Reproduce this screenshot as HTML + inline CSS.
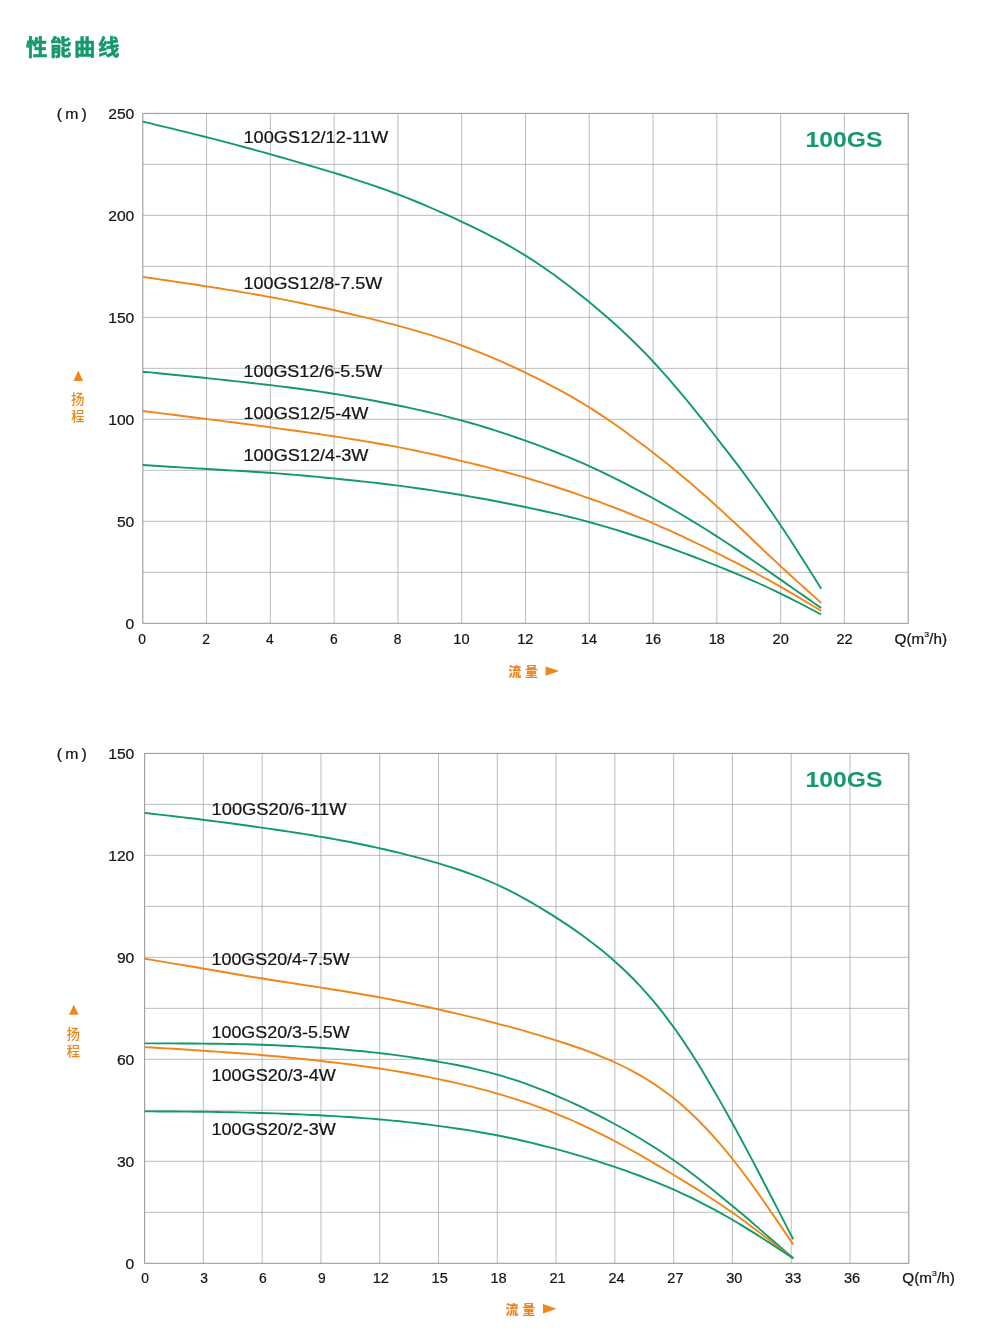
<!DOCTYPE html>
<html lang="zh-CN"><head><meta charset="utf-8"><title>性能曲线</title>
<style>html,body{margin:0;padding:0;background:#fff}svg{display:block}text{font-family:"Liberation Sans", "Noto Sans CJK SC", sans-serif}.d{stroke:#141414;stroke-width:.22px}</style>
</head><body>
<svg width="1008" height="1342" viewBox="0 0 1008 1342">
<rect width="1008" height="1342" fill="#fff"/>
<text x="25.9" y="54.9" font-size="21.4" font-weight="bold" fill="#14996b" stroke="#14996b" stroke-width="0.55" textLength="93.6" lengthAdjust="spacing">性能曲线</text>
<path d="M206.58 113.40V623.30M270.37 113.40V623.30M334.15 113.40V623.30M397.93 113.40V623.30M461.72 113.40V623.30M525.50 113.40V623.30M589.28 113.40V623.30M653.07 113.40V623.30M716.85 113.40V623.30M780.63 113.40V623.30M844.42 113.40V623.30M142.80 164.39H908.20M142.80 215.38H908.20M142.80 266.37H908.20M142.80 317.36H908.20M142.80 368.35H908.20M142.80 419.34H908.20M142.80 470.33H908.20M142.80 521.32H908.20M142.80 572.31H908.20" stroke="#a0a0a0" stroke-width="0.7" fill="none"/>
<path d="M142.40 113.40H908.60M142.40 623.30H908.60" stroke="#858585" stroke-width="0.9" fill="none"/>
<path d="M142.80 113.40V623.30M908.20 113.40V623.30" stroke="#9c9c9c" stroke-width="1.1" fill="none"/>
<path d="M142.8 121.6 L150.4 123.4 L158.0 125.3 L165.7 127.1 L173.3 128.9 L180.9 130.8 L188.5 132.7 L196.2 134.6 L203.8 136.5 L211.4 138.4 L219.0 140.4 L226.6 142.4 L234.3 144.4 L241.9 146.5 L249.5 148.5 L257.1 150.6 L264.8 152.7 L272.4 154.9 L280.0 157.0 L287.6 159.2 L295.2 161.4 L302.9 163.6 L310.5 165.8 L318.1 168.1 L325.7 170.3 L333.4 172.7 L341.0 175.0 L348.6 177.4 L356.2 179.8 L363.9 182.3 L371.5 184.9 L379.1 187.5 L386.7 190.2 L394.3 193.0 L402.0 195.9 L409.6 198.9 L417.2 202.0 L424.8 205.2 L432.5 208.5 L440.1 211.8 L447.7 215.2 L455.3 218.7 L462.9 222.3 L470.6 225.9 L478.2 229.6 L485.8 233.4 L493.4 237.3 L501.1 241.4 L508.7 245.6 L516.3 250.0 L523.9 254.6 L531.5 259.4 L539.2 264.5 L546.8 269.7 L554.4 275.1 L562.0 280.7 L569.7 286.5 L577.3 292.4 L584.9 298.5 L592.5 304.8 L600.1 311.2 L607.8 317.8 L615.4 324.5 L623.0 331.5 L630.6 338.7 L638.3 346.2 L645.9 353.9 L653.5 362.0 L661.1 370.3 L668.8 378.9 L676.4 387.8 L684.0 396.9 L691.6 406.2 L699.2 415.6 L706.9 425.2 L714.5 435.0 L722.1 444.8 L729.7 454.7 L737.4 464.7 L745.0 474.9 L752.6 485.3 L760.2 495.8 L767.8 506.6 L775.5 517.7 L783.1 529.0 L790.7 540.6 L798.3 552.4 L806.0 564.4 L813.6 576.5 L821.2 588.7" stroke="#14996b" stroke-width="1.9" fill="none" stroke-linecap="butt"/>
<path d="M142.8 276.9 L150.4 278.0 L158.0 279.1 L165.7 280.2 L173.3 281.4 L180.9 282.5 L188.5 283.6 L196.2 284.8 L203.8 286.0 L211.4 287.1 L219.0 288.3 L226.6 289.6 L234.3 290.8 L241.9 292.1 L249.5 293.4 L257.1 294.7 L264.8 296.1 L272.4 297.5 L280.0 298.9 L287.6 300.4 L295.2 301.9 L302.9 303.5 L310.5 305.1 L318.1 306.7 L325.7 308.3 L333.4 310.0 L341.0 311.7 L348.6 313.5 L356.2 315.3 L363.9 317.1 L371.5 318.9 L379.1 320.8 L386.7 322.8 L394.3 324.7 L402.0 326.8 L409.6 328.9 L417.2 331.1 L424.8 333.3 L432.5 335.6 L440.1 338.1 L447.7 340.6 L455.3 343.2 L462.9 346.0 L470.6 348.8 L478.2 351.8 L485.8 354.9 L493.4 358.1 L501.1 361.4 L508.7 364.8 L516.3 368.3 L523.9 371.9 L531.5 375.6 L539.2 379.4 L546.8 383.3 L554.4 387.3 L562.0 391.4 L569.7 395.7 L577.3 400.1 L584.9 404.7 L592.5 409.4 L600.1 414.4 L607.8 419.5 L615.4 424.7 L623.0 430.1 L630.6 435.7 L638.3 441.4 L645.9 447.1 L653.5 453.0 L661.1 459.0 L668.8 465.1 L676.4 471.3 L684.0 477.7 L691.6 484.1 L699.2 490.7 L706.9 497.3 L714.5 504.2 L722.1 511.1 L729.7 518.2 L737.4 525.3 L745.0 532.5 L752.6 539.8 L760.2 547.0 L767.8 554.2 L775.5 561.4 L783.1 568.5 L790.7 575.5 L798.3 582.4 L806.0 589.3 L813.6 596.1 L821.2 602.9" stroke="#f0861a" stroke-width="1.9" fill="none" stroke-linecap="butt"/>
<path d="M142.8 371.7 L150.4 372.4 L158.0 373.2 L165.7 374.0 L173.3 374.7 L180.9 375.5 L188.5 376.2 L196.2 377.0 L203.8 377.8 L211.4 378.6 L219.0 379.4 L226.6 380.2 L234.3 381.1 L241.9 381.9 L249.5 382.8 L257.1 383.6 L264.8 384.5 L272.4 385.4 L280.0 386.4 L287.6 387.3 L295.2 388.3 L302.9 389.3 L310.5 390.3 L318.1 391.4 L325.7 392.5 L333.4 393.7 L341.0 394.9 L348.6 396.2 L356.2 397.5 L363.9 398.9 L371.5 400.3 L379.1 401.7 L386.7 403.2 L394.3 404.8 L402.0 406.3 L409.6 407.9 L417.2 409.6 L424.8 411.3 L432.5 413.1 L440.1 414.9 L447.7 416.8 L455.3 418.8 L462.9 420.8 L470.6 423.0 L478.2 425.2 L485.8 427.5 L493.4 429.9 L501.1 432.3 L508.7 434.9 L516.3 437.5 L523.9 440.1 L531.5 442.9 L539.2 445.7 L546.8 448.6 L554.4 451.5 L562.0 454.6 L569.7 457.7 L577.3 460.9 L584.9 464.2 L592.5 467.7 L600.1 471.2 L607.8 474.8 L615.4 478.6 L623.0 482.4 L630.6 486.3 L638.3 490.3 L645.9 494.4 L653.5 498.5 L661.1 502.8 L668.8 507.1 L676.4 511.5 L684.0 516.0 L691.6 520.6 L699.2 525.3 L706.9 530.0 L714.5 534.9 L722.1 539.8 L729.7 544.8 L737.4 549.9 L745.0 555.1 L752.6 560.3 L760.2 565.5 L767.8 570.8 L775.5 576.1 L783.1 581.4 L790.7 586.7 L798.3 592.0 L806.0 597.4 L813.6 602.7 L821.2 608.0" stroke="#14996b" stroke-width="1.9" fill="none" stroke-linecap="butt"/>
<path d="M142.8 411.0 L150.4 412.0 L158.0 412.9 L165.7 413.9 L173.3 414.8 L180.9 415.8 L188.5 416.7 L196.2 417.7 L203.8 418.6 L211.4 419.6 L219.0 420.6 L226.6 421.6 L234.3 422.5 L241.9 423.5 L249.5 424.5 L257.1 425.5 L264.8 426.5 L272.4 427.6 L280.0 428.6 L287.6 429.7 L295.2 430.7 L302.9 431.8 L310.5 432.9 L318.1 434.0 L325.7 435.1 L333.4 436.3 L341.0 437.4 L348.6 438.6 L356.2 439.8 L363.9 441.1 L371.5 442.3 L379.1 443.7 L386.7 445.0 L394.3 446.4 L402.0 447.9 L409.6 449.4 L417.2 451.0 L424.8 452.6 L432.5 454.2 L440.1 456.0 L447.7 457.7 L455.3 459.5 L462.9 461.3 L470.6 463.1 L478.2 465.0 L485.8 466.9 L493.4 468.9 L501.1 470.9 L508.7 473.0 L516.3 475.1 L523.9 477.2 L531.5 479.5 L539.2 481.8 L546.8 484.1 L554.4 486.5 L562.0 489.0 L569.7 491.5 L577.3 494.1 L584.9 496.8 L592.5 499.5 L600.1 502.2 L607.8 505.1 L615.4 508.0 L623.0 510.9 L630.6 514.0 L638.3 517.1 L645.9 520.2 L653.5 523.5 L661.1 526.8 L668.8 530.2 L676.4 533.7 L684.0 537.2 L691.6 540.8 L699.2 544.5 L706.9 548.2 L714.5 551.9 L722.1 555.7 L729.7 559.6 L737.4 563.4 L745.0 567.4 L752.6 571.4 L760.2 575.5 L767.8 579.6 L775.5 583.9 L783.1 588.2 L790.7 592.6 L798.3 597.1 L806.0 601.7 L813.6 606.3 L821.2 610.9" stroke="#f0861a" stroke-width="1.9" fill="none" stroke-linecap="butt"/>
<path d="M142.8 465.0 L150.4 465.5 L158.0 466.0 L165.7 466.5 L173.3 467.0 L180.9 467.4 L188.5 467.9 L196.2 468.4 L203.8 468.8 L211.4 469.3 L219.0 469.7 L226.6 470.2 L234.3 470.6 L241.9 471.0 L249.5 471.5 L257.1 472.0 L264.8 472.5 L272.4 473.0 L280.0 473.6 L287.6 474.2 L295.2 474.9 L302.9 475.5 L310.5 476.2 L318.1 476.9 L325.7 477.7 L333.4 478.4 L341.0 479.2 L348.6 480.0 L356.2 480.8 L363.9 481.6 L371.5 482.4 L379.1 483.3 L386.7 484.2 L394.3 485.1 L402.0 486.1 L409.6 487.1 L417.2 488.2 L424.8 489.3 L432.5 490.4 L440.1 491.6 L447.7 492.8 L455.3 494.0 L462.9 495.3 L470.6 496.6 L478.2 498.0 L485.8 499.3 L493.4 500.8 L501.1 502.2 L508.7 503.7 L516.3 505.2 L523.9 506.8 L531.5 508.4 L539.2 510.0 L546.8 511.7 L554.4 513.4 L562.0 515.2 L569.7 517.0 L577.3 518.9 L584.9 520.9 L592.5 523.0 L600.1 525.1 L607.8 527.4 L615.4 529.7 L623.0 532.0 L630.6 534.5 L638.3 537.0 L645.9 539.5 L653.5 542.2 L661.1 544.8 L668.8 547.5 L676.4 550.3 L684.0 553.1 L691.6 556.0 L699.2 558.9 L706.9 561.9 L714.5 564.9 L722.1 567.9 L729.7 571.0 L737.4 574.2 L745.0 577.4 L752.6 580.7 L760.2 584.0 L767.8 587.5 L775.5 591.1 L783.1 594.8 L790.7 598.6 L798.3 602.5 L806.0 606.5 L813.6 610.5 L821.2 614.5" stroke="#14996b" stroke-width="1.9" fill="none" stroke-linecap="butt"/>
<text x="243.4" y="142.9" font-size="16.8" text-anchor="start" fill="#141414" font-weight="normal" textLength="144.8" lengthAdjust="spacingAndGlyphs" class="d">100GS12/12-11W</text>
<text x="243.4" y="288.9" font-size="16.8" text-anchor="start" fill="#141414" font-weight="normal" textLength="138.9" lengthAdjust="spacingAndGlyphs" class="d">100GS12/8-7.5W</text>
<text x="243.4" y="377.4" font-size="16.8" text-anchor="start" fill="#141414" font-weight="normal" textLength="138.9" lengthAdjust="spacingAndGlyphs" class="d">100GS12/6-5.5W</text>
<text x="243.4" y="418.6" font-size="16.8" text-anchor="start" fill="#141414" font-weight="normal" textLength="125.0" lengthAdjust="spacingAndGlyphs" class="d">100GS12/5-4W</text>
<text x="243.4" y="461.4" font-size="16.8" text-anchor="start" fill="#141414" font-weight="normal" textLength="125.0" lengthAdjust="spacingAndGlyphs" class="d">100GS12/4-3W</text>
<text x="138.3" y="644.1" font-size="14" text-anchor="start" fill="#141414" font-weight="normal" textLength="7.7" lengthAdjust="spacingAndGlyphs" class="d">0</text>
<text x="202.2" y="644.1" font-size="14" text-anchor="start" fill="#141414" font-weight="normal" textLength="7.7" lengthAdjust="spacingAndGlyphs" class="d">2</text>
<text x="266.0" y="644.1" font-size="14" text-anchor="start" fill="#141414" font-weight="normal" textLength="7.7" lengthAdjust="spacingAndGlyphs" class="d">4</text>
<text x="329.9" y="644.1" font-size="14" text-anchor="start" fill="#141414" font-weight="normal" textLength="7.7" lengthAdjust="spacingAndGlyphs" class="d">6</text>
<text x="393.8" y="644.1" font-size="14" text-anchor="start" fill="#141414" font-weight="normal" textLength="7.7" lengthAdjust="spacingAndGlyphs" class="d">8</text>
<text x="453.3" y="644.1" font-size="14" text-anchor="start" fill="#141414" font-weight="normal" textLength="16.2" lengthAdjust="spacingAndGlyphs" class="d">10</text>
<text x="517.2" y="644.1" font-size="14" text-anchor="start" fill="#141414" font-weight="normal" textLength="16.2" lengthAdjust="spacingAndGlyphs" class="d">12</text>
<text x="581.0" y="644.1" font-size="14" text-anchor="start" fill="#141414" font-weight="normal" textLength="16.2" lengthAdjust="spacingAndGlyphs" class="d">14</text>
<text x="644.9" y="644.1" font-size="14" text-anchor="start" fill="#141414" font-weight="normal" textLength="16.2" lengthAdjust="spacingAndGlyphs" class="d">16</text>
<text x="708.7" y="644.1" font-size="14" text-anchor="start" fill="#141414" font-weight="normal" textLength="16.2" lengthAdjust="spacingAndGlyphs" class="d">18</text>
<text x="772.6" y="644.1" font-size="14" text-anchor="start" fill="#141414" font-weight="normal" textLength="16.2" lengthAdjust="spacingAndGlyphs" class="d">20</text>
<text x="836.4" y="644.1" font-size="14" text-anchor="start" fill="#141414" font-weight="normal" textLength="16.2" lengthAdjust="spacingAndGlyphs" class="d">22</text>
<text x="894.5" y="644.1" font-size="14" fill="#141414" class="d" textLength="52.5" lengthAdjust="spacingAndGlyphs">Q(m<tspan font-size="8" dy="-7.2">3</tspan><tspan dy="7.2">/h)</tspan></text>
<text x="125.6" y="629.3" font-size="14" text-anchor="start" fill="#141414" font-weight="normal" textLength="8.7" lengthAdjust="spacingAndGlyphs" class="d">0</text>
<text x="116.9" y="527.3" font-size="14" text-anchor="start" fill="#141414" font-weight="normal" textLength="17.4" lengthAdjust="spacingAndGlyphs" class="d">50</text>
<text x="108.2" y="425.3" font-size="14" text-anchor="start" fill="#141414" font-weight="normal" textLength="26.1" lengthAdjust="spacingAndGlyphs" class="d">100</text>
<text x="108.2" y="323.4" font-size="14" text-anchor="start" fill="#141414" font-weight="normal" textLength="26.1" lengthAdjust="spacingAndGlyphs" class="d">150</text>
<text x="108.2" y="221.4" font-size="14" text-anchor="start" fill="#141414" font-weight="normal" textLength="26.1" lengthAdjust="spacingAndGlyphs" class="d">200</text>
<text x="108.2" y="119.4" font-size="14" text-anchor="start" fill="#141414" font-weight="normal" textLength="26.1" lengthAdjust="spacingAndGlyphs" class="d">250</text>
<text x="56.8" y="119.1" font-size="14" text-anchor="start" fill="#141414" font-weight="normal" textLength="30.0" lengthAdjust="spacingAndGlyphs" class="d">(&#8201;m&#8201;)</text>
<path d="M78.3 370.6L83.1 381.0L73.5 381.0Z" fill="#f0861a"/>
<text x="77.7" y="403.9" font-size="13.5" text-anchor="middle" fill="#f0861a" font-weight="500">扬<tspan x="77.7" dy="17.3">程</tspan></text>
<text x="508.2" y="675.6" font-size="13" fill="#f0861a" font-weight="900" textLength="29.7" lengthAdjust="spacing">流量</text>
<path d="M545.6 666.4L559.1 671.1L545.6 675.8Z" fill="#f0861a"/>
<text x="805.6" y="146.8" font-size="21.5" text-anchor="start" fill="#14996b" font-weight="bold" textLength="77.0" lengthAdjust="spacingAndGlyphs">100GS</text>
<path d="M203.38 753.40V1263.30M262.17 753.40V1263.30M320.95 753.40V1263.30M379.74 753.40V1263.30M438.52 753.40V1263.30M497.31 753.40V1263.30M556.09 753.40V1263.30M614.88 753.40V1263.30M673.66 753.40V1263.30M732.45 753.40V1263.30M791.23 753.40V1263.30M850.02 753.40V1263.30M144.60 804.39H908.80M144.60 855.38H908.80M144.60 906.37H908.80M144.60 957.36H908.80M144.60 1008.35H908.80M144.60 1059.34H908.80M144.60 1110.33H908.80M144.60 1161.32H908.80M144.60 1212.31H908.80" stroke="#a0a0a0" stroke-width="0.7" fill="none"/>
<path d="M144.20 753.40H909.20M144.20 1263.30H909.20" stroke="#858585" stroke-width="0.9" fill="none"/>
<path d="M144.60 753.40V1263.30M908.80 753.40V1263.30" stroke="#9c9c9c" stroke-width="1.1" fill="none"/>
<path d="M144.6 812.9 L151.9 813.7 L159.2 814.6 L166.5 815.4 L173.8 816.2 L181.0 817.1 L188.3 818.0 L195.6 818.8 L202.9 819.7 L210.2 820.7 L217.5 821.6 L224.8 822.5 L232.1 823.5 L239.3 824.5 L246.6 825.5 L253.9 826.5 L261.2 827.6 L268.5 828.6 L275.8 829.7 L283.1 830.8 L290.4 831.9 L297.6 833.0 L304.9 834.1 L312.2 835.3 L319.5 836.6 L326.8 837.8 L334.1 839.1 L341.4 840.5 L348.7 841.8 L355.9 843.3 L363.2 844.8 L370.5 846.3 L377.8 847.9 L385.1 849.5 L392.4 851.2 L399.7 852.9 L407.0 854.8 L414.2 856.6 L421.5 858.6 L428.8 860.6 L436.1 862.7 L443.4 864.9 L450.7 867.1 L458.0 869.5 L465.3 872.0 L472.5 874.6 L479.8 877.4 L487.1 880.3 L494.4 883.5 L501.7 886.8 L509.0 890.4 L516.3 894.2 L523.6 898.1 L530.8 902.2 L538.1 906.5 L545.4 910.9 L552.7 915.4 L560.0 920.1 L567.3 924.9 L574.6 929.9 L581.9 935.0 L589.1 940.4 L596.4 946.0 L603.7 951.8 L611.0 958.0 L618.3 964.5 L625.6 971.3 L632.9 978.5 L640.2 986.2 L647.4 994.2 L654.7 1002.7 L662.0 1011.7 L669.3 1021.3 L676.6 1031.3 L683.9 1041.9 L691.2 1053.0 L698.5 1064.6 L705.7 1076.5 L713.0 1088.9 L720.3 1101.6 L727.6 1114.5 L734.9 1127.8 L742.2 1141.2 L749.5 1154.9 L756.8 1168.7 L764.0 1182.7 L771.3 1196.7 L778.6 1210.9 L785.9 1225.1 L793.2 1239.3" stroke="#14996b" stroke-width="1.9" fill="none" stroke-linecap="butt"/>
<path d="M144.6 958.7 L151.9 959.9 L159.2 961.1 L166.5 962.4 L173.8 963.6 L181.0 964.8 L188.3 966.0 L195.6 967.3 L202.9 968.5 L210.2 969.8 L217.5 971.0 L224.8 972.3 L232.1 973.5 L239.3 974.7 L246.6 976.0 L253.9 977.2 L261.2 978.3 L268.5 979.5 L275.8 980.7 L283.1 981.8 L290.4 982.9 L297.6 984.0 L304.9 985.1 L312.2 986.3 L319.5 987.4 L326.8 988.5 L334.1 989.7 L341.4 990.8 L348.7 992.0 L355.9 993.2 L363.2 994.5 L370.5 995.7 L377.8 997.0 L385.1 998.4 L392.4 999.8 L399.7 1001.2 L407.0 1002.7 L414.2 1004.2 L421.5 1005.7 L428.8 1007.3 L436.1 1008.9 L443.4 1010.5 L450.7 1012.2 L458.0 1013.9 L465.3 1015.6 L472.5 1017.3 L479.8 1019.1 L487.1 1021.0 L494.4 1022.8 L501.7 1024.8 L509.0 1026.7 L516.3 1028.7 L523.6 1030.7 L530.8 1032.8 L538.1 1034.9 L545.4 1037.1 L552.7 1039.3 L560.0 1041.6 L567.3 1044.0 L574.6 1046.5 L581.9 1049.0 L589.1 1051.7 L596.4 1054.5 L603.7 1057.5 L611.0 1060.7 L618.3 1064.0 L625.6 1067.5 L632.9 1071.3 L640.2 1075.4 L647.4 1079.7 L654.7 1084.4 L662.0 1089.4 L669.3 1094.8 L676.6 1100.6 L683.9 1106.8 L691.2 1113.5 L698.5 1120.5 L705.7 1128.0 L713.0 1135.9 L720.3 1144.2 L727.6 1152.9 L734.9 1162.0 L742.2 1171.5 L749.5 1181.3 L756.8 1191.4 L764.0 1201.7 L771.3 1212.2 L778.6 1222.9 L785.9 1233.6 L793.2 1244.4" stroke="#f0861a" stroke-width="1.9" fill="none" stroke-linecap="butt"/>
<path d="M144.6 1043.4 L151.9 1043.4 L159.2 1043.4 L166.5 1043.4 L173.8 1043.4 L181.0 1043.5 L188.3 1043.5 L195.6 1043.5 L202.9 1043.6 L210.2 1043.7 L217.5 1043.8 L224.8 1043.9 L232.1 1044.0 L239.3 1044.1 L246.6 1044.3 L253.9 1044.5 L261.2 1044.8 L268.5 1045.0 L275.8 1045.3 L283.1 1045.7 L290.4 1046.0 L297.6 1046.4 L304.9 1046.9 L312.2 1047.3 L319.5 1047.8 L326.8 1048.3 L334.1 1048.8 L341.4 1049.4 L348.7 1050.0 L355.9 1050.7 L363.2 1051.3 L370.5 1052.1 L377.8 1052.9 L385.1 1053.7 L392.4 1054.6 L399.7 1055.6 L407.0 1056.6 L414.2 1057.7 L421.5 1058.9 L428.8 1060.0 L436.1 1061.3 L443.4 1062.6 L450.7 1063.9 L458.0 1065.3 L465.3 1066.8 L472.5 1068.4 L479.8 1070.1 L487.1 1071.9 L494.4 1073.8 L501.7 1075.9 L509.0 1078.1 L516.3 1080.4 L523.6 1082.9 L530.8 1085.6 L538.1 1088.3 L545.4 1091.2 L552.7 1094.2 L560.0 1097.3 L567.3 1100.5 L574.6 1103.8 L581.9 1107.2 L589.1 1110.8 L596.4 1114.4 L603.7 1118.2 L611.0 1122.0 L618.3 1126.0 L625.6 1130.0 L632.9 1134.2 L640.2 1138.5 L647.4 1143.0 L654.7 1147.5 L662.0 1152.3 L669.3 1157.2 L676.6 1162.3 L683.9 1167.5 L691.2 1172.9 L698.5 1178.5 L705.7 1184.2 L713.0 1190.0 L720.3 1195.9 L727.6 1201.9 L734.9 1208.0 L742.2 1214.1 L749.5 1220.3 L756.8 1226.6 L764.0 1232.9 L771.3 1239.2 L778.6 1245.5 L785.9 1251.9 L793.2 1258.3" stroke="#14996b" stroke-width="1.9" fill="none" stroke-linecap="butt"/>
<path d="M144.6 1047.1 L151.9 1047.5 L159.2 1048.0 L166.5 1048.4 L173.8 1048.8 L181.0 1049.3 L188.3 1049.7 L195.6 1050.2 L202.9 1050.7 L210.2 1051.2 L217.5 1051.6 L224.8 1052.2 L232.1 1052.7 L239.3 1053.2 L246.6 1053.8 L253.9 1054.4 L261.2 1055.0 L268.5 1055.7 L275.8 1056.3 L283.1 1057.0 L290.4 1057.7 L297.6 1058.5 L304.9 1059.2 L312.2 1060.0 L319.5 1060.8 L326.8 1061.7 L334.1 1062.5 L341.4 1063.4 L348.7 1064.3 L355.9 1065.3 L363.2 1066.2 L370.5 1067.2 L377.8 1068.3 L385.1 1069.4 L392.4 1070.6 L399.7 1071.8 L407.0 1073.0 L414.2 1074.3 L421.5 1075.7 L428.8 1077.1 L436.1 1078.6 L443.4 1080.1 L450.7 1081.7 L458.0 1083.4 L465.3 1085.1 L472.5 1086.9 L479.8 1088.8 L487.1 1090.7 L494.4 1092.8 L501.7 1094.9 L509.0 1097.1 L516.3 1099.4 L523.6 1101.7 L530.8 1104.2 L538.1 1106.8 L545.4 1109.5 L552.7 1112.3 L560.0 1115.3 L567.3 1118.4 L574.6 1121.5 L581.9 1124.8 L589.1 1128.3 L596.4 1131.8 L603.7 1135.4 L611.0 1139.2 L618.3 1143.0 L625.6 1147.0 L632.9 1151.0 L640.2 1155.1 L647.4 1159.3 L654.7 1163.6 L662.0 1167.9 L669.3 1172.3 L676.6 1176.7 L683.9 1181.1 L691.2 1185.6 L698.5 1190.1 L705.7 1194.7 L713.0 1199.5 L720.3 1204.3 L727.6 1209.2 L734.9 1214.3 L742.2 1219.6 L749.5 1224.9 L756.8 1230.4 L764.0 1235.9 L771.3 1241.6 L778.6 1247.2 L785.9 1253.0 L793.2 1258.7" stroke="#f0861a" stroke-width="1.9" fill="none" stroke-linecap="butt"/>
<path d="M144.6 1111.4 L151.9 1111.4 L159.2 1111.5 L166.5 1111.5 L173.8 1111.5 L181.0 1111.6 L188.3 1111.6 L195.6 1111.7 L202.9 1111.8 L210.2 1111.9 L217.5 1112.0 L224.8 1112.1 L232.1 1112.3 L239.3 1112.4 L246.6 1112.6 L253.9 1112.8 L261.2 1113.0 L268.5 1113.2 L275.8 1113.4 L283.1 1113.7 L290.4 1114.0 L297.6 1114.3 L304.9 1114.6 L312.2 1115.0 L319.5 1115.3 L326.8 1115.7 L334.1 1116.1 L341.4 1116.6 L348.7 1117.0 L355.9 1117.5 L363.2 1118.1 L370.5 1118.6 L377.8 1119.2 L385.1 1119.9 L392.4 1120.6 L399.7 1121.3 L407.0 1122.1 L414.2 1122.9 L421.5 1123.7 L428.8 1124.6 L436.1 1125.6 L443.4 1126.6 L450.7 1127.6 L458.0 1128.7 L465.3 1129.8 L472.5 1130.9 L479.8 1132.2 L487.1 1133.5 L494.4 1134.8 L501.7 1136.3 L509.0 1137.8 L516.3 1139.3 L523.6 1141.0 L530.8 1142.7 L538.1 1144.5 L545.4 1146.3 L552.7 1148.2 L560.0 1150.2 L567.3 1152.2 L574.6 1154.3 L581.9 1156.4 L589.1 1158.7 L596.4 1160.9 L603.7 1163.3 L611.0 1165.7 L618.3 1168.2 L625.6 1170.7 L632.9 1173.3 L640.2 1176.0 L647.4 1178.8 L654.7 1181.6 L662.0 1184.6 L669.3 1187.7 L676.6 1190.9 L683.9 1194.3 L691.2 1197.7 L698.5 1201.3 L705.7 1205.1 L713.0 1208.9 L720.3 1212.9 L727.6 1217.0 L734.9 1221.2 L742.2 1225.6 L749.5 1230.1 L756.8 1234.6 L764.0 1239.3 L771.3 1244.0 L778.6 1248.7 L785.9 1253.5 L793.2 1258.3" stroke="#14996b" stroke-width="1.9" fill="none" stroke-linecap="butt"/>
<text x="211.5" y="815.0" font-size="16.8" text-anchor="start" fill="#141414" font-weight="normal" textLength="135.1" lengthAdjust="spacingAndGlyphs" class="d">100GS20/6-11W</text>
<text x="211.5" y="965.4" font-size="16.8" text-anchor="start" fill="#141414" font-weight="normal" textLength="138.2" lengthAdjust="spacingAndGlyphs" class="d">100GS20/4-7.5W</text>
<text x="211.5" y="1038.2" font-size="16.8" text-anchor="start" fill="#141414" font-weight="normal" textLength="138.2" lengthAdjust="spacingAndGlyphs" class="d">100GS20/3-5.5W</text>
<text x="211.5" y="1080.9" font-size="16.8" text-anchor="start" fill="#141414" font-weight="normal" textLength="124.4" lengthAdjust="spacingAndGlyphs" class="d">100GS20/3-4W</text>
<text x="211.5" y="1135.4" font-size="16.8" text-anchor="start" fill="#141414" font-weight="normal" textLength="124.4" lengthAdjust="spacingAndGlyphs" class="d">100GS20/2-3W</text>
<text x="141.2" y="1282.8" font-size="14" text-anchor="start" fill="#141414" font-weight="normal" textLength="7.7" lengthAdjust="spacingAndGlyphs" class="d">0</text>
<text x="200.2" y="1282.8" font-size="14" text-anchor="start" fill="#141414" font-weight="normal" textLength="7.7" lengthAdjust="spacingAndGlyphs" class="d">3</text>
<text x="259.1" y="1282.8" font-size="14" text-anchor="start" fill="#141414" font-weight="normal" textLength="7.7" lengthAdjust="spacingAndGlyphs" class="d">6</text>
<text x="318.0" y="1282.8" font-size="14" text-anchor="start" fill="#141414" font-weight="normal" textLength="7.7" lengthAdjust="spacingAndGlyphs" class="d">9</text>
<text x="372.7" y="1282.8" font-size="14" text-anchor="start" fill="#141414" font-weight="normal" textLength="16.2" lengthAdjust="spacingAndGlyphs" class="d">12</text>
<text x="431.6" y="1282.8" font-size="14" text-anchor="start" fill="#141414" font-weight="normal" textLength="16.2" lengthAdjust="spacingAndGlyphs" class="d">15</text>
<text x="490.5" y="1282.8" font-size="14" text-anchor="start" fill="#141414" font-weight="normal" textLength="16.2" lengthAdjust="spacingAndGlyphs" class="d">18</text>
<text x="549.4" y="1282.8" font-size="14" text-anchor="start" fill="#141414" font-weight="normal" textLength="16.2" lengthAdjust="spacingAndGlyphs" class="d">21</text>
<text x="608.4" y="1282.8" font-size="14" text-anchor="start" fill="#141414" font-weight="normal" textLength="16.2" lengthAdjust="spacingAndGlyphs" class="d">24</text>
<text x="667.3" y="1282.8" font-size="14" text-anchor="start" fill="#141414" font-weight="normal" textLength="16.2" lengthAdjust="spacingAndGlyphs" class="d">27</text>
<text x="726.2" y="1282.8" font-size="14" text-anchor="start" fill="#141414" font-weight="normal" textLength="16.2" lengthAdjust="spacingAndGlyphs" class="d">30</text>
<text x="785.1" y="1282.8" font-size="14" text-anchor="start" fill="#141414" font-weight="normal" textLength="16.2" lengthAdjust="spacingAndGlyphs" class="d">33</text>
<text x="844.0" y="1282.8" font-size="14" text-anchor="start" fill="#141414" font-weight="normal" textLength="16.2" lengthAdjust="spacingAndGlyphs" class="d">36</text>
<text x="902.3" y="1282.8" font-size="14" fill="#141414" class="d" textLength="52.5" lengthAdjust="spacingAndGlyphs">Q(m<tspan font-size="8" dy="-7.2">3</tspan><tspan dy="7.2">/h)</tspan></text>
<text x="125.6" y="1269.3" font-size="14" text-anchor="start" fill="#141414" font-weight="normal" textLength="8.7" lengthAdjust="spacingAndGlyphs" class="d">0</text>
<text x="116.9" y="1167.3" font-size="14" text-anchor="start" fill="#141414" font-weight="normal" textLength="17.4" lengthAdjust="spacingAndGlyphs" class="d">30</text>
<text x="116.9" y="1065.3" font-size="14" text-anchor="start" fill="#141414" font-weight="normal" textLength="17.4" lengthAdjust="spacingAndGlyphs" class="d">60</text>
<text x="116.9" y="963.4" font-size="14" text-anchor="start" fill="#141414" font-weight="normal" textLength="17.4" lengthAdjust="spacingAndGlyphs" class="d">90</text>
<text x="108.2" y="861.4" font-size="14" text-anchor="start" fill="#141414" font-weight="normal" textLength="26.1" lengthAdjust="spacingAndGlyphs" class="d">120</text>
<text x="108.2" y="759.4" font-size="14" text-anchor="start" fill="#141414" font-weight="normal" textLength="26.1" lengthAdjust="spacingAndGlyphs" class="d">150</text>
<text x="56.8" y="759.1" font-size="14" text-anchor="start" fill="#141414" font-weight="normal" textLength="30.0" lengthAdjust="spacingAndGlyphs" class="d">(&#8201;m&#8201;)</text>
<path d="M73.8 1004.4L78.6 1014.8L69.0 1014.8Z" fill="#f0861a"/>
<text x="73.2" y="1039.1" font-size="13.5" text-anchor="middle" fill="#f0861a" font-weight="500">扬<tspan x="73.2" dy="17.3">程</tspan></text>
<text x="505.6" y="1313.5" font-size="13" fill="#f0861a" font-weight="900" textLength="29.7" lengthAdjust="spacing">流量</text>
<path d="M543.0 1304.1L556.5 1308.8L543.0 1313.5Z" fill="#f0861a"/>
<text x="805.6" y="786.8" font-size="21.5" text-anchor="start" fill="#14996b" font-weight="bold" textLength="77.0" lengthAdjust="spacingAndGlyphs">100GS</text>
</svg>
</body></html>
